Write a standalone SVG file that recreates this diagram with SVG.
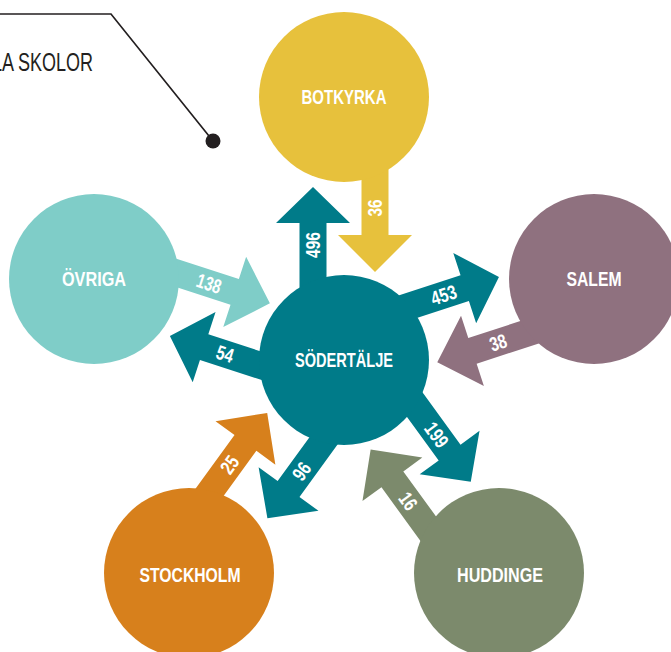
<svg xmlns="http://www.w3.org/2000/svg" width="671" height="652" viewBox="0 0 671 652">
<style>
.out{fill:#007b89}
.num{font-family:"Liberation Sans",Arial,sans-serif;font-weight:bold;font-size:20px;fill:#ffffff;text-anchor:middle}
.lbl{font-family:"Liberation Sans",Arial,sans-serif;font-weight:bold;font-size:20px;fill:#ffffff;text-anchor:middle}
.note{font-family:"Liberation Sans",Arial,sans-serif;font-size:25px;fill:#231f20}
</style>
<rect width="671" height="652" fill="#ffffff"/>
<g id="callout">
<polyline points="0,14 111,14 213,141" fill="none" stroke="#231f20" stroke-width="1.7"/>
<circle cx="213" cy="141" r="7.5" fill="#231f20"/>
<text class="note" x="-8" y="71" textLength="101" lengthAdjust="spacingAndGlyphs">LA SKOLOR</text>
</g>
<g id="connectors">
<g id="c-botkyrka" transform="translate(344 360) rotate(-90)">
<polygon class="out" points="50,-44.5 137,-44.5 137,-68 173,-31 137,6 137,-17.5 50,-17.5"/>
<polygon fill="#e7c13c" points="230,17.5 125,17.5 125,-6 88,31 125,68 125,44.5 230,44.5"/>
<text class="num" transform="translate(115 -31)" y="7" textLength="26" lengthAdjust="spacingAndGlyphs">496</text>
<text class="num" transform="translate(152 31)" y="7" textLength="17" lengthAdjust="spacingAndGlyphs">36</text>
</g>
<g id="c-salem" transform="translate(344 360) rotate(-18)">
<polygon class="out" points="50,-44.5 137,-44.5 137,-68 173,-31 137,6 137,-17.5 50,-17.5"/>
<polygon fill="#8f717f" points="230,17.5 125,17.5 125,-6 88,31 125,68 125,44.5 230,44.5"/>
<text class="num" transform="translate(115 -31)" y="7" textLength="26" lengthAdjust="spacingAndGlyphs">453</text>
<text class="num" transform="translate(152 31)" y="7" textLength="17" lengthAdjust="spacingAndGlyphs">38</text>
</g>
<g id="c-huddinge" transform="translate(344 360) rotate(54)">
<polygon class="out" points="50,-44.5 137,-44.5 137,-68 173,-31 137,6 137,-17.5 50,-17.5"/>
<polygon fill="#7c8a6c" points="230,17.5 125,17.5 125,-6 88,31 125,68 125,44.5 230,44.5"/>
<text class="num" transform="translate(115 -31)" y="7" textLength="26" lengthAdjust="spacingAndGlyphs">199</text>
<text class="num" transform="translate(152 31)" y="7" textLength="17" lengthAdjust="spacingAndGlyphs">16</text>
</g>
<g id="c-stockholm" transform="translate(344 360) rotate(126)">
<polygon class="out" points="50,-44.5 137,-44.5 137,-68 173,-31 137,6 137,-17.5 50,-17.5"/>
<polygon fill="#d7801c" points="230,17.5 125,17.5 125,-6 88,31 125,68 125,44.5 230,44.5"/>
<text class="num" transform="translate(115 -31) rotate(180)" y="7" textLength="17" lengthAdjust="spacingAndGlyphs">96</text>
<text class="num" transform="translate(152 31) rotate(180)" y="7" textLength="17" lengthAdjust="spacingAndGlyphs">25</text>
</g>
<g id="c-ovriga" transform="translate(344 360) rotate(198)">
<polygon class="out" points="50,-44.5 137,-44.5 137,-68 173,-31 137,6 137,-17.5 50,-17.5"/>
<polygon fill="#7fcdc8" points="230,17.5 125,17.5 125,-6 88,31 125,68 125,44.5 230,44.5"/>
<text class="num" transform="translate(115 -31) rotate(180)" y="7" textLength="17" lengthAdjust="spacingAndGlyphs">54</text>
<text class="num" transform="translate(152 31) rotate(180)" y="7" textLength="25" lengthAdjust="spacingAndGlyphs">138</text>
</g>
</g>
<g id="sodertalje">
<circle cx="344" cy="360" r="85" fill="#007b89"/>
<text class="lbl" x="344" y="367" textLength="98" lengthAdjust="spacingAndGlyphs">SÖDERTÄLJE</text>
</g>
<g id="botkyrka">
<circle cx="344" cy="97" r="85" fill="#e7c13c"/>
<text class="lbl" x="344" y="104" textLength="85" lengthAdjust="spacingAndGlyphs">BOTKYRKA</text>
</g>
<g id="salem">
<circle cx="594" cy="279" r="85" fill="#8f717f"/>
<text class="lbl" x="594" y="286" textLength="55" lengthAdjust="spacingAndGlyphs">SALEM</text>
</g>
<g id="huddinge">
<circle cx="499" cy="573" r="85" fill="#7c8a6c"/>
<text class="lbl" x="500" y="582" textLength="86" lengthAdjust="spacingAndGlyphs">HUDDINGE</text>
</g>
<g id="stockholm">
<circle cx="189" cy="573" r="85" fill="#d7801c"/>
<text class="lbl" x="190" y="582" textLength="101" lengthAdjust="spacingAndGlyphs">STOCKHOLM</text>
</g>
<g id="ovriga">
<circle cx="94" cy="279" r="85" fill="#7fcdc8"/>
<text class="lbl" x="94" y="286" textLength="64" lengthAdjust="spacingAndGlyphs">ÖVRIGA</text>
</g>
</svg>
